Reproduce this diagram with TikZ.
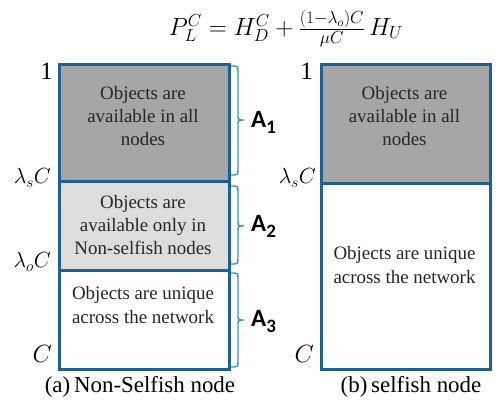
\RequirePackage{fix-cm}
\documentclass[tikz,border=0pt]{standalone}
\usepackage{fontspec}
\setmainfont{Liberation Serif}
\newfontfamily\carlito{Carlito}
\usetikzlibrary{positioning}
\definecolor{boxblue}{RGB}{31,95,145}
\definecolor{braceblue}{RGB}{60,145,210}
\definecolor{darkfill}{RGB}{166,166,166}
\definecolor{lightfill}{RGB}{221,221,221}
\tikzset{
  part/.style={draw=boxblue, line width=3bp, inner sep=0pt, anchor=north west},
  txt/.style={align=center, font=\fontsize{19}{23.5}\selectfont, text=black!85, inner sep=0pt},
  lev/.style={anchor=east, font=\fontsize{22}{22}\selectfont, inner sep=0pt},
  biglev/.style={anchor=east, font=\fontsize{25}{25}\selectfont, inner sep=0pt},
  captext/.style={font=\fontsize{23}{23}\selectfont, inner sep=0pt},
  alab/.style={anchor=west, font=\carlito\bfseries\fontsize{25}{25}\selectfont, inner sep=0pt},
  brc/.style={draw=braceblue, line width=1.4bp}
}
\newcommand{\mybrace}[4]{% x0, y1, y2, ym
  \draw[brc] (#1,#2) .. controls (#1+7,#2) .. (#1+7,#2+6) -- (#1+7,#4-5)
    .. controls (#1+7,#4) .. (#1+13,#4) .. controls (#1+7,#4) .. (#1+7,#4+5)
    -- (#1+7,#3-6) .. controls (#1+7,#3) .. (#1,#3);}
\begin{document}
\begin{tikzpicture}[x=1bp,y=-1bp]
\useasboundingbox (0,0) rectangle (499,407);
% formula
\node[inner sep=0pt, font=\fontsize{25}{25}\selectfont] (eq) at (286,29)
  {$P_L^C = H_D^C + \frac{(1-\lambda_o)C}{\mu C}\,H_U$};
% left box
\node[part, fill=darkfill, minimum width=170bp, minimum height=117bp] (a1) at (58,63) {};
\node[part, fill=lightfill, minimum width=170bp, minimum height=89bp] (a2) at (58,180) {};
\node[part, fill=white, minimum width=170bp, minimum height=99bp] (a3) at (58,269) {};
\node[txt] (t1) at (143,116) {Objects are\\available in all\\nodes};
\node[txt] (t2) at (143,225) {Objects are\\available only in\\Non-selfish nodes};
\node[txt] (t3) at (143,305) {Objects are unique\\across the network};
% right box
\node[part, fill=darkfill, minimum width=169bp, minimum height=119bp] (b1) at (320,63) {};
\node[part, fill=white, minimum width=169bp, minimum height=186bp] (b2) at (320,182) {};
\node[txt] (u1) at (404.5,116) {Objects are\\available in all\\nodes};
\node[txt] (u2) at (404.5,265) {Objects are unique\\across the network};
% levels
\node[biglev] (l1) at (53,71) {1};
\node[lev] (ls) at (51,178) {$\lambda_s C$};
\node[lev] (lo) at (51,262) {$\lambda_o C$};
\node[biglev] (lc) at (52,354) {$C$};
\node[biglev] (r1) at (313,71) {1};
\node[lev] (rs) at (316,178) {$\lambda_s C$};
\node[biglev] (rc) at (314,354) {$C$};
% braces
\mybrace{231}{66}{175}{120}
\mybrace{231}{186}{264}{226}
\mybrace{231}{273}{367}{320}
\node[alab] (A1) at (251,122) {A\raisebox{-6bp}{\fontsize{19}{19}\selectfont 1}};
\node[alab] (A2) at (251,226) {A\raisebox{-6bp}{\fontsize{19}{19}\selectfont 2}};
\node[alab] (A3) at (251,321) {A\raisebox{-6bp}{\fontsize{19}{19}\selectfont 3}};
% captions
\node[captext] (ca) at (140,387) {(a)\,Non-Selfish node};
\node[captext] (cb) at (411,387) {(b)\,selfish node};
\end{tikzpicture}
\end{document}
